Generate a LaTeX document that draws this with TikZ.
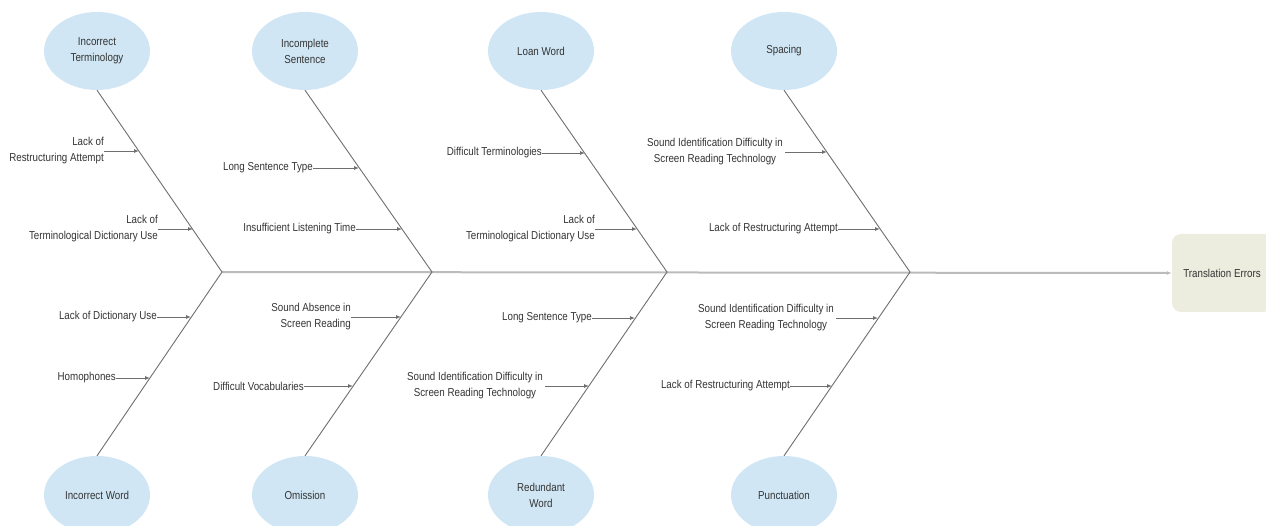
\documentclass[tikz,border=0pt]{standalone}
\usepackage{fontspec}
\setmainfont[FakeStretch=0.85]{Liberation Sans}
\usepackage{tikz}
\usetikzlibrary{arrows.meta,shapes.geometric}

\definecolor{catblue}{HTML}{D0E6F4}
\definecolor{effbeige}{HTML}{ECECDF}
\definecolor{bonegray}{HTML}{6E6E6E}
\definecolor{spinegray}{HTML}{BBBBBB}
\definecolor{txtgray}{HTML}{333333}

\begin{document}
\begin{tikzpicture}[
  x=1pt, y=-1pt,
  font=\fontsize{11.5pt}{16pt}\selectfont,
  cat/.style={ellipse, fill=catblue, minimum width=106pt, minimum height=78pt, align=center, text=txtgray, inner sep=0pt},
  cause/.style={anchor=east, align=right, inner sep=0pt, text=txtgray},
  bone/.style={draw=bonegray, line width=0.9pt},
  arr/.style={-{Latex[length=5pt,width=4pt]}, draw=bonegray, line width=0.9pt},
  spine/.style={-{Latex[length=5pt,width=4pt]}, draw=spinegray, line width=2pt}
]
\useasboundingbox (0,0) rectangle (1266,526);

% categories
\node[cat] (term) at (97,51) {Incorrect\\Terminology};
\node[cat] (incomp) at (305,51) {Incomplete\\Sentence};
\node[cat] (loan) at (541,51) {Loan Word};
\node[cat] (space) at (784,51) {Spacing};
\node[cat] (word) at (97,495) {Incorrect Word};
\node[cat] (omis) at (305,495) {Omission};
\node[cat] (redun) at (541,495) {Redundant\\Word};
\node[cat] (punct) at (784,495) {Punctuation};

% effect
\node[rectangle, rounded corners=9pt, fill=effbeige, minimum width=100pt, minimum height=78pt, text=txtgray] (err) at (1222,273) {Translation Errors};

% spine joints
\coordinate (j1) at (222,272);
\coordinate (j2) at (432,272);
\coordinate (j3) at (667,272);
\coordinate (j4) at (910,272);

\draw[spine] (j1) -- (err.west);
\draw[bone] (term.south) -- (j1) -- (word.north);
\draw[bone] (incomp.south) -- (j2) -- (omis.north);
\draw[bone] (loan.south) -- (j3) -- (redun.north);
\draw[bone] (space.south) -- (j4) -- (punct.north);

% causes, upper half
\coordinate (p1a) at (139,151);
\coordinate (p1b) at (193,229);
\node[cause] (c1a) at (104,151) {Lack of\\Restructuring Attempt};
\node[cause] (c1b) at (158,229) {Lack of\\Terminological Dictionary Use};
\draw[arr] (c1a) -- (p1a);
\draw[arr] (c1b) -- (p1b);

\coordinate (p2a) at (359,168);
\coordinate (p2b) at (402,229);
\node[cause] (c2a) at (313,168) {Long Sentence Type};
\node[cause] (c2b) at (356,229) {Insufficient Listening Time};
\draw[arr] (c2a) -- (p2a);
\draw[arr] (c2b) -- (p2b);

\coordinate (p3a) at (585,153);
\coordinate (p3b) at (637,229);
\node[cause] (c3a) at (542,153) {Difficult Terminologies};
\node[cause] (c3b) at (595,229) {Lack of\\Terminological Dictionary Use};
\draw[arr] (c3a) -- (p3a);
\draw[arr] (c3b) -- (p3b);

\coordinate (p4a) at (827,152);
\coordinate (p4b) at (880,229);
\node[cause, align=center] (c4a) at (783,152) {Sound Identification Difficulty in\\Screen Reading Technology};
\node[cause] (c4b) at (838,229) {Lack of Restructuring Attempt};
\draw[arr] ([xshift=2pt]c4a.east) -- (p4a);
\draw[arr] (c4b) -- (p4b);

% causes, lower half
\coordinate (p5a) at (191,317);
\coordinate (p5b) at (150,378);
\node[cause] (c5a) at (157,317) {Lack of Dictionary Use};
\node[cause] (c5b) at (116,378) {Homophones};
\draw[arr] (c5a) -- (p5a);
\draw[arr] (c5b) -- (p5b);

\coordinate (p6a) at (401,317);
\coordinate (p6b) at (353,386);
\node[cause] (c6a) at (351,317) {Sound Absence in\\Screen Reading};
\node[cause] (c6b) at (304,386) {Difficult Vocabularies};
\draw[arr] (c6a) -- (p6a);
\draw[arr] (c6b) -- (p6b);

\coordinate (p7a) at (635,318);
\coordinate (p7b) at (589,386);
\node[cause] (c7a) at (592,318) {Long Sentence Type};
\node[cause, align=center] (c7b) at (543,386) {Sound Identification Difficulty in\\Screen Reading Technology};
\draw[arr] (c7a) -- (p7a);
\draw[arr] ([xshift=2pt]c7b.east) -- (p7b);

\coordinate (p8a) at (878,318);
\coordinate (p8b) at (832,386);
\node[cause, align=center] (c8a) at (834,318) {Sound Identification Difficulty in\\Screen Reading Technology};
\node[cause] (c8b) at (790,386) {Lack of Restructuring Attempt};
\draw[arr] ([xshift=2pt]c8a.east) -- (p8a);
\draw[arr] (c8b) -- (p8b);
\end{tikzpicture}
\end{document}
